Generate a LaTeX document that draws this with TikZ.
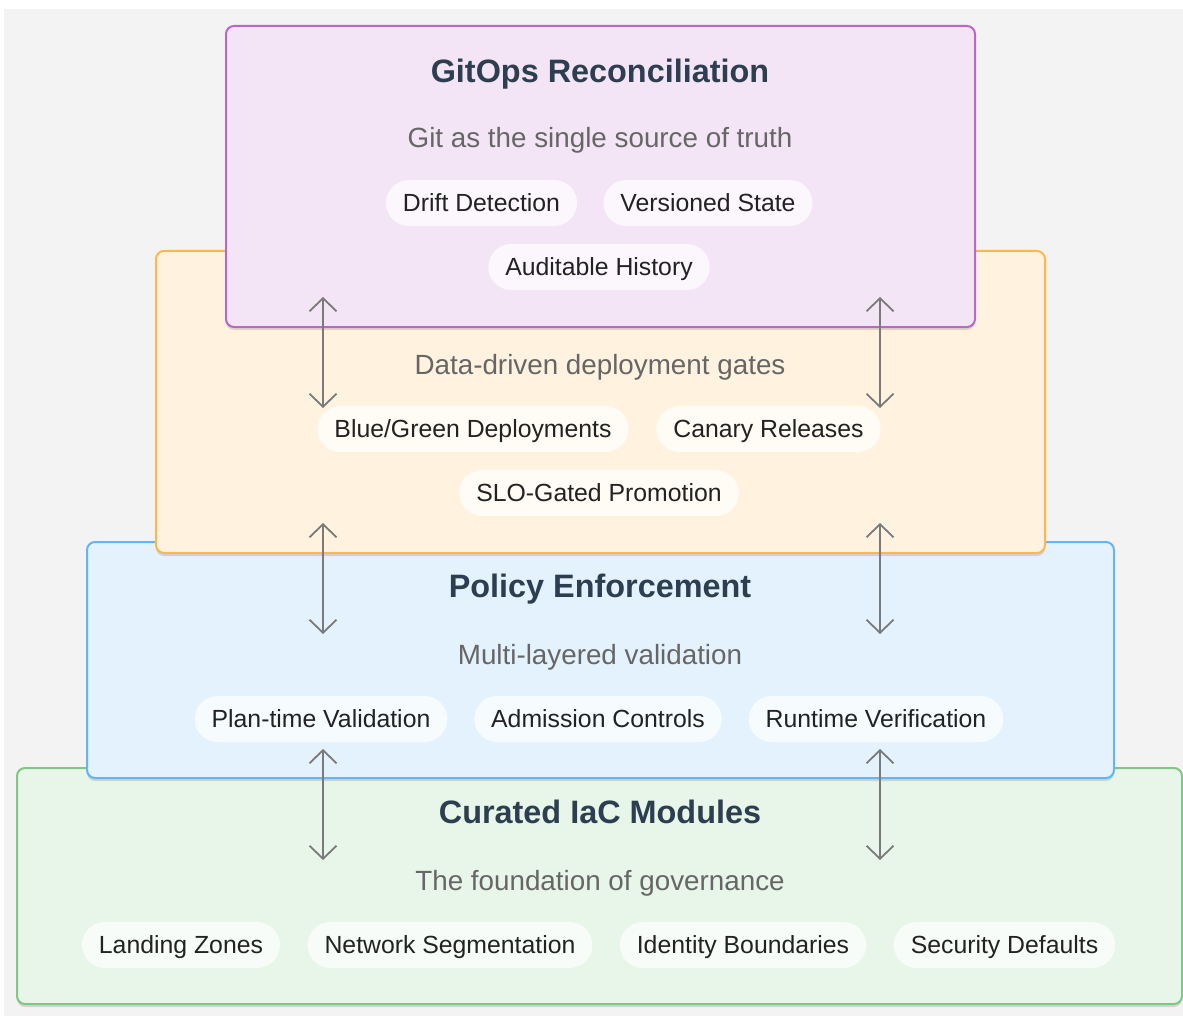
\documentclass[tikz,border=0pt]{standalone}
\usepackage{fontspec}
\setmainfont{Liberation Sans}
\usetikzlibrary{arrows.meta,shadows}

\definecolor{pagebg}{HTML}{F3F3F3}
\definecolor{gitfill}{HTML}{F3E5F5}
\definecolor{gitline}{HTML}{BA68C8}
\definecolor{gatefill}{HTML}{FFF3E0}
\definecolor{gateline}{HTML}{FFB74D}
\definecolor{policyfill}{HTML}{E3F2FD}
\definecolor{policyline}{HTML}{64B5F6}
\definecolor{modfill}{HTML}{E8F5E9}
\definecolor{modline}{HTML}{81C784}
\definecolor{titletext}{HTML}{2C3E50}
\definecolor{subtext}{HTML}{666666}
\definecolor{pilltext}{HTML}{222222}
\definecolor{arrowgray}{HTML}{7A7A7A}

\begin{document}
\begin{tikzpicture}
  [x=1pt,y=-1pt,
   layerbox/.style={draw,line width=2pt,rounded corners=8pt,inner sep=0pt,
     drop shadow={shadow xshift=0pt,shadow yshift=-3pt,opacity=.12,fill=black}},
   titletxt/.style={font=\fontsize{32.4}{38}\selectfont\bfseries,text=titletext,
     text height=23.2pt,text depth=0pt,inner sep=0pt},
   subtxt/.style={font=\fontsize{27.8}{33}\selectfont,text=subtext,
     text height=19.9pt,text depth=0pt,inner sep=0pt},
   pill/.style={fill=white,fill opacity=.7,text opacity=1,text=pilltext,
     rounded corners=23pt,minimum height=46pt,inner xsep=17pt,inner ysep=0pt,
     font=\fontsize{24.8}{30}\selectfont,text height=17.8pt,text depth=0pt},
   updown/.style={arrowgray,line width=1.8pt,
     {Straight Barb[length=13pt,width=27pt]}-{Straight Barb[length=13pt,width=27pt]}}]

  \useasboundingbox (0,0) rectangle (1183,1016);
  \fill[white] (0,0) rectangle (1183,1016);
  \fill[pagebg] (4,9) rectangle (1183,1016);

  % layers, bottom one first
  \node (modules)[layerbox,draw=modline,fill=modfill,minimum width=1165pt,minimum height=236pt] at (599.5,886) {};
  \node (policy)[layerbox,draw=policyline,fill=policyfill,minimum width=1027pt,minimum height=236pt] at (600.5,660) {};
  \node (gates)[layerbox,draw=gateline,fill=gatefill,minimum width=889pt,minimum height=302pt] at (600.5,402) {};
  \node (gitops)[layerbox,draw=gitline,fill=gitfill,minimum width=749pt,minimum height=301pt] at (600.5,176.5) {};

  % gitops
  \node (gitopstitle)[titletxt] at (600,70.5) {GitOps Reconciliation};
  \node (gitopssub)[subtxt] at (600,137.5) {Git as the single source of truth};
  \node (drift)[pill] at (481.5,203) {Drift Detection};
  \node (versioned)[pill] at (708,203) {Versioned State};
  \node (audit)[pill] at (599,267) {Auditable History};

  % gates
  \node (gatessub)[subtxt] at (600,365) {Data-driven deployment gates};
  \node (bluegreen)[pill] at (473,429) {Blue/Green Deployments};
  \node (canary)[pill] at (768.5,429) {Canary Releases};
  \node (slo)[pill] at (599,493) {SLO-Gated Promotion};

  % policy
  \node (policytitle)[titletxt] at (600,585.5) {Policy Enforcement};
  \node (policysub)[subtxt] at (600,654.5) {Multi-layered validation};
  \node (plantime)[pill] at (321,719) {Plan-time Validation};
  \node (admission)[pill] at (598,719) {Admission Controls};
  \node (runtime)[pill] at (876,719) {Runtime Verification};

  % modules
  \node (modulestitle)[titletxt] at (600,812) {Curated IaC Modules};
  \node (modulessub)[subtxt] at (600,880.5) {The foundation of governance};
  \node (landing)[pill] at (181,945) {Landing Zones};
  \node (network)[pill] at (450,945) {Network Segmentation};
  \node (identity)[pill] at (743,945) {Identity Boundaries};
  \node (security)[pill] at (1004.5,945) {Security Defaults};

  % arrow ends
  \coordinate (g1) at (323,297);  \coordinate (g2) at (323,408);
  \coordinate (g3) at (880,297);  \coordinate (g4) at (880,408);
  \coordinate (p1) at (323,523);  \coordinate (p2) at (323,634);
  \coordinate (p3) at (880,523);  \coordinate (p4) at (880,634);
  \coordinate (m1) at (323,749);  \coordinate (m2) at (323,860);
  \coordinate (m3) at (880,749);  \coordinate (m4) at (880,860);

  \foreach \from/\to in {g1/g2,g3/g4,p1/p2,p3/p4,m1/m2,m3/m4}
    \draw[updown] (\from) -- (\to);

\end{tikzpicture}
\end{document}
